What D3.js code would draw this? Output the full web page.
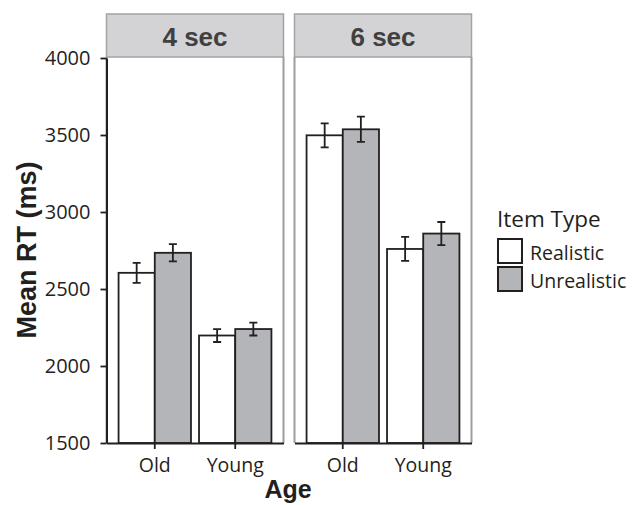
<!DOCTYPE html>
<html lang="en">
<head>
<meta charset="UTF-8">
<title>Mean RT by Age</title>
<script src="https://d3js.org/d3.v7.min.js"></script>
<style>
  body { margin: 0; background: #fff; }
  text { fill: #231f20; }
</style>
</head>
<body>
<div id="chart"></div>
<script>
    const panels = ["4 sec", "6 sec"];
    const ages = ["Old", "Young"];
    const itemTypes = ["Realistic", "Unrealistic"];
    // mean RT per panel, per age, per item type
    const meanRT = [
        [[2605, 2735], [2198, 2240]],
        [[3498, 3537], [2760, 2860]]
    ];
    const errRT = [
        [[65, 56], [42, 42]],
        [[78, 82], [78, 75]]
    ];
    const yTicks = [1500, 2000, 2500, 3000, 3500, 4000];

    const W = 642, H = 505;
    const panelX = [106.5, 294.5], panelW = 177;
    const panelTop = 57, panelBottom = 443, stripTop = 14;
    const fills = {Realistic: "#ffffff", Unrealistic: "#b4b5b8"};

    const svg = d3.select("#chart").append("svg")
        .attr("width", W).attr("height", H);

    const y = d3.scaleLinear().domain([1500, 4000]).range([panelBottom, 58]);
    const x0 = d3.scaleBand().domain(ages).range([0, panelW])
        .paddingInner(0.1).paddingOuter(0.15);
    const x1 = d3.scaleBand().domain(itemTypes).range([0, x0.bandwidth()]);

    panels.forEach((p, pi) => {
        const g = svg.append("g").attr("transform", `translate(${panelX[pi]},0)`);

        // strip
        g.append("rect")
            .attr("x", 0).attr("y", stripTop)
            .attr("width", panelW).attr("height", panelTop - stripTop)
            .attr("fill", "#d3d3d5").attr("stroke", "#a3a3a5").attr("stroke-width", 1.5);
        g.append("text")
            .attr("x", panelW / 2).attr("y", 46)
            .attr("text-anchor", "middle")
            .style("font-family", "Liberation Sans, Arial, sans-serif")
            .style("font-weight", "bold").style("font-size", "26px")
            .style("fill", "#404040")
            .text(p);

        // panel border (sides)
        g.append("line").attr("x1", 0).attr("x2", 0).attr("y1", panelTop).attr("y2", panelBottom)
            .attr("stroke", "#9d9d9f").attr("stroke-width", 2);
        g.append("line").attr("x1", panelW).attr("x2", panelW).attr("y1", panelTop).attr("y2", panelBottom)
            .attr("stroke", "#9d9d9f").attr("stroke-width", 2);

        // bars
        ages.forEach((a, ai) => {
            itemTypes.forEach((t, ti) => {
                const v = meanRT[pi][ai][ti], e = errRT[pi][ai][ti];
                const bx = x0(a) + x1(t);
                g.append("rect")
                    .attr("x", bx).attr("y", y(v))
                    .attr("width", x1.bandwidth()).attr("height", y(1500) - y(v))
                    .attr("fill", fills[t]).attr("stroke", "#231f20").attr("stroke-width", 1.8);
                const cx = bx + x1.bandwidth() / 2;
                g.append("path")
                    .attr("d", `M${cx - 4},${y(v + e)}H${cx + 4}M${cx},${y(v + e)}V${y(v - e)}M${cx - 4},${y(v - e)}H${cx + 4}`)
                    .attr("fill", "none").attr("stroke", "#231f20").attr("stroke-width", 1.8);
            });
        });

        // x axis
        const xa = g.append("g").attr("transform", `translate(0,${panelBottom})`)
            .call(d3.axisBottom(x0).tickSize(6).tickSizeOuter(0));
        xa.select(".domain").attr("stroke", "#231f20").attr("stroke-width", 2);
        xa.selectAll(".tick line").attr("stroke", "#231f20").attr("stroke-width", 1.8);
        xa.selectAll(".tick text")
            .style("font-family", "Open Sans, sans-serif").style("font-size", "19.5px")
            .attr("y", 29).attr("dy", null).style("fill", "#231f20");
    });

    // y axis
    const ya = svg.append("g").attr("transform", `translate(${panelX[0]},0)`)
        .call(d3.axisLeft(y).tickValues(yTicks).tickSize(6).tickSizeOuter(0).tickFormat(d3.format("d")));
    ya.select(".domain").attr("stroke", "#231f20").attr("stroke-width", 2);
    ya.selectAll(".tick line").attr("stroke", "#231f20").attr("stroke-width", 1.8);
    ya.selectAll(".tick text")
        .style("font-family", "Open Sans, sans-serif").style("font-size", "20px")
        .attr("x", -16).style("fill", "#231f20");

    // axis titles
    svg.append("text")
        .attr("transform", "translate(36,250) rotate(-90)")
        .attr("text-anchor", "middle")
        .style("font-family", "Liberation Sans, Arial, sans-serif")
        .style("font-weight", "bold").style("font-size", "27px")
        .text("Mean RT (ms)");
    svg.append("text")
        .attr("x", 288).attr("y", 498)
        .attr("text-anchor", "middle")
        .style("font-family", "Liberation Sans, Arial, sans-serif")
        .style("font-weight", "bold").style("font-size", "25px")
        .text("Age");

    // legend
    const lg = svg.append("g").attr("transform", "translate(497,0)");
    lg.append("text").attr("x", 0).attr("y", 227)
        .style("font-family", "Open Sans, sans-serif").style("font-size", "22.5px")
        .text("Item Type");
    itemTypes.forEach((t, i) => {
        lg.append("rect")
            .attr("x", 1).attr("y", 239 + i * 28).attr("width", 24).attr("height", 24)
            .attr("fill", fills[t]).attr("stroke", "#231f20").attr("stroke-width", 2);
        lg.append("text")
            .attr("x", 33).attr("y", 260 + i * 28)
            .style("font-family", "Open Sans, sans-serif").style("font-size", "19.5px")
            .text(t);
    });
</script>
</body>
</html>
